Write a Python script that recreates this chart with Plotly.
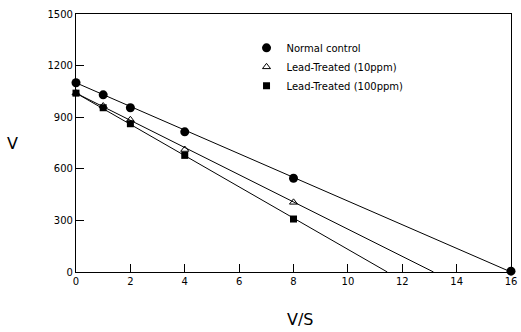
import plotly.graph_objects as go

# Data
x_nc = [0, 1, 2, 4, 8, 16]
y_nc = [1100, 1030, 955, 815, 545, 5]
x_10 = [0, 1, 2, 4, 8]
y_10 = [1040, 965, 885, 712, 405]
x_100 = [0, 1, 2, 4, 8]
y_100 = [1040, 955, 862, 678, 308]

# fitted lines (intercepts on axes)
fit_nc_x = [0, 16]
fit_nc_y = [1100, 0]
fit_10_x = [0, 13.15]
fit_10_y = [1040, 0]
fit_100_x = [0, 11.45]
fit_100_y = [1040, 0]

xticks = [0, 2, 4, 6, 8, 10, 12, 14, 16]
yticks = [0, 300, 600, 900, 1200, 1500]

fig = go.Figure()
line = dict(color="black", width=1)
for fx, fy in [(fit_nc_x, fit_nc_y), (fit_10_x, fit_10_y), (fit_100_x, fit_100_y)]:
    fig.add_trace(go.Scatter(x=fx, y=fy, mode="lines", line=line, showlegend=False, hoverinfo="skip"))

fig.add_trace(go.Scatter(x=x_nc, y=y_nc, mode="markers", name="Normal control",
                         marker=dict(symbol="circle", size=9, color="black"), cliponaxis=False))
fig.add_trace(go.Scatter(x=x_10, y=y_10, mode="markers", name="Lead-Treated (10ppm)",
                         marker=dict(symbol="triangle-up-open", size=7, color="black", line=dict(width=1)),
                         cliponaxis=False))
fig.add_trace(go.Scatter(x=x_100, y=y_100, mode="markers", name="Lead-Treated (100ppm)",
                         marker=dict(symbol="square", size=7, color="black"), cliponaxis=False))

axis_common = dict(showline=True, linecolor="black", linewidth=1.2, mirror=True,
                   ticks="inside", ticklen=8, tickcolor="black", tickwidth=1,
                   showgrid=False, zeroline=False, automargin=False,
                   tickfont=dict(family="DejaVu Sans", size=10, color="black"))

W, H = 521, 332
ML, MR, MT, MB = 76, 10, 14, 60
pw = W - ML - MR
ph = H - MT - MB

fig.update_layout(
    width=W, height=H,
    margin=dict(l=ML, r=MR, t=MT, b=MB),
    paper_bgcolor="white", plot_bgcolor="white",
    xaxis=dict(range=[0, 16], tickvals=xticks, **axis_common),
    yaxis=dict(range=[0, 1500], tickvals=yticks, **axis_common),
    legend=dict(x=0.392, y=0.925, xanchor="left", yanchor="top",
                bgcolor="rgba(0,0,0,0)", font=dict(family="DejaVu Sans", size=10, color="black"),
                itemwidth=30, tracegroupgap=0),
    showlegend=True,
    annotations=[
        dict(text="V", x=(12 - ML) / pw, y=(H - MB - 143) / ph, xref="paper", yref="paper",
             showarrow=False, xanchor="center", yanchor="middle",
             font=dict(family="DejaVu Sans", size=16, color="black")),
        dict(text="V/S", x=(300 - ML) / pw, y=(H - MB - 320) / ph, xref="paper", yref="paper",
             showarrow=False, xanchor="center", yanchor="middle",
             font=dict(family="DejaVu Sans", size=16, color="black")),
    ],
)

fig.write_html("out.html", config={"displayModeBar": False},
               post_script="document.body.style.margin='0';document.body.style.overflow='hidden';")
